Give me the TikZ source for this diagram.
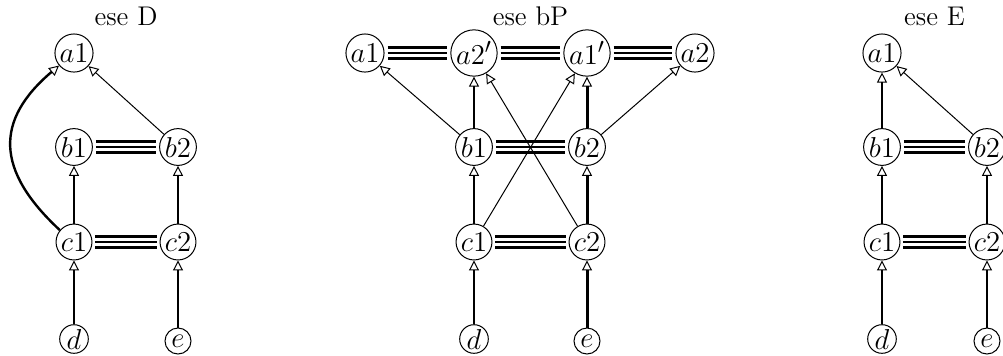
\documentclass[tikz,border=0pt]{standalone}
\usetikzlibrary{arrows.meta}
\begin{document}
\begin{tikzpicture}[x=0.5pt,y=-0.5pt,
  nd/.style={circle, draw, line width=0.5pt, inner sep=0.7pt, minimum size=13pt, font=\fontsize{15}{17}\selectfont},
  ttl/.style={font=\fontsize{13.5}{15}\selectfont},
  tipo/.style={-{Triangle[open, length=5pt, width=5pt, line width=0.5pt]}},
  thk/.style={tipo, line width=1.2pt},
  thkk/.style={tipo, line width=1.5pt},
  thn/.style={tipo, line width=0.5pt},
  trip/.style={line width=1.1pt, double distance=4.4pt, shorten <=1.5pt, shorten >=1.5pt},
  tripmid/.style={line width=1.1pt, shorten <=1.5pt, shorten >=1.5pt}]
\useasboundingbox (0,0) rectangle (1003,355);
% ---------- ese D ----------
\node[ttl] (tD) at (126,16) {ese D};
\node[nd] (La1) at (74,53) {$a1$};
\node[nd] (Lb1) at (74,147) {$b1$};
\node[nd] (Lb2) at (178,147) {$b2$};
\node[nd] (Lc1) at (74,242) {$c1$};
\node[nd] (Lc2) at (178,242) {$c2$};
\node[nd] (Ld) at (74,339) {$d$};
\node[nd] (Le) at (178,341) {$e$};
\draw[thn] (Lb2) -- (La1);
\draw[thk] (Lc1) -- (Lb1);
\draw[thk] (Lc2) -- (Lb2);
\draw[thk] (Ld) -- (Lc1);
\draw[thk] (Le) -- (Lc2);
\draw[thk] (Lc1.140) .. controls (-5,170) and (-5,120) .. (La1.220);
\draw[trip] (Lb1) -- (Lb2); \draw[tripmid] (Lb1) -- (Lb2);
\draw[trip] (Lc1) -- (Lc2); \draw[tripmid] (Lc1) -- (Lc2);
% ---------- ese bP ----------
\node[ttl] (tP) at (530.5,16) {ese bP};
\node[nd] (Ma1) at (365,53) {$a1$};
\node[nd] (Ma2p) at (474,53) {$a2'$};
\node[nd] (Ma1p) at (587,53) {$a1'$};
\node[nd] (Ma2) at (695,53) {$a2$};
\node[nd] (Mb1) at (474,147) {$b1$};
\node[nd] (Mb2) at (587,147) {$b2$};
\node[nd] (Mc1) at (474,242) {$c1$};
\node[nd] (Mc2) at (587,242) {$c2$};
\node[nd] (Md) at (474,339) {$d$};
\node[nd] (Me) at (587,341) {$e$};
\draw[trip] (Ma1) -- (Ma2p); \draw[tripmid] (Ma1) -- (Ma2p);
\draw[trip] (Ma2p) -- (Ma1p); \draw[tripmid] (Ma2p) -- (Ma1p);
\draw[trip] (Ma1p) -- (Ma2); \draw[tripmid] (Ma1p) -- (Ma2);
\draw[trip] (Mb1) -- (Mb2); \draw[tripmid] (Mb1) -- (Mb2);
\draw[trip] (Mc1) -- (Mc2); \draw[tripmid] (Mc1) -- (Mc2);
\draw[thn] (Mb1) -- (Ma1);
\draw[thk] (Mb1) -- (Ma2p);
\draw[thn] (Mc2) -- (Ma2p);
\draw[thn] (Mc1) -- (Ma1p);
\draw[thkk] (Mb2) -- (Ma1p);
\draw[thn] (Mb2) -- (Ma2);
\draw[thk] (Mc1) -- (Mb1);
\draw[thkk] (Mc2) -- (Mb2);
\draw[thk] (Md) -- (Mc1);
\draw[thkk] (Me) -- (Mc2);
% ---------- ese E ----------
\node[ttl] (tE) at (934.5,16) {ese E};
\node[nd] (Ra1) at (882,53) {$a1$};
\node[nd] (Rb1) at (882,147) {$b1$};
\node[nd] (Rb2) at (987,147) {$b2$};
\node[nd] (Rc1) at (882,242) {$c1$};
\node[nd] (Rc2) at (987,242) {$c2$};
\node[nd] (Rd) at (882,339) {$d$};
\node[nd] (Re) at (987,341) {$e$};
\draw[thk] (Rb1) -- (Ra1);
\draw[thn] (Rb2) -- (Ra1);
\draw[thk] (Rc1) -- (Rb1);
\draw[thk] (Rc2) -- (Rb2);
\draw[thk] (Rd) -- (Rc1);
\draw[thk] (Re) -- (Rc2);
\draw[trip] (Rb1) -- (Rb2); \draw[tripmid] (Rb1) -- (Rb2);
\draw[trip] (Rc1) -- (Rc2); \draw[tripmid] (Rc1) -- (Rc2);
\end{tikzpicture}
\end{document}
